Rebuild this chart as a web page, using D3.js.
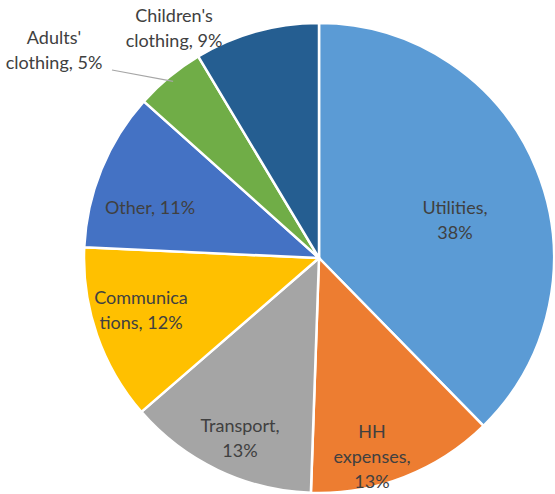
<!DOCTYPE html>
<html><head><meta charset="utf-8">
<script src="https://cdn.jsdelivr.net/npm/d3@7"></script>
<style>html,body{margin:0;padding:0;background:#fff;}</style>
</head><body>
<svg id="c" width="555" height="494"></svg>
<script>
const categories = ["Utilities", "HH expenses", "Transport", "Communications", "Other", "Adults' clothing", "Children's clothing"];
const values = [37.7, 12.9, 13.1, 12.1, 10.9, 4.8, 8.6];
const colors = ["#5B9BD5", "#ED7D31", "#A5A5A5", "#FFC000", "#4472C4", "#70AD47", "#255E91"];
const labelLines = [
  ["Utilities,", "38%"],
  ["HH", "expenses,", "13%"],
  ["Transport,", "13%"],
  ["Communica", "tions, 12%"],
  ["Other, 11%"],
  ["Adults'", "clothing, 5%"],
  ["Children's", "clothing, 9%"]
];
// label anchor positions (center of text block), in px
const labelPos = [[455, 220], [372, 457], [240, 438], [141, 310], [150, 208], [54, 50], [174, 28]];

const svg = d3.select("#c");
const cx = 319, cy = 258, r = 235;
const g = svg.append("g").attr("transform", `translate(${cx},${cy})`);
const pie = d3.pie().sort(null).value(d => d);
const arc = d3.arc().innerRadius(0).outerRadius(r);
const arcs = pie(values);
g.selectAll("path").data(arcs).enter().append("path")
  .attr("d", arc)
  .attr("fill", (d, i) => colors[i])
  .attr("stroke", "#fff").attr("stroke-width", 2.5).attr("stroke-linejoin", "round");

// leader line for Adults' clothing
const a5 = arcs[5];
const mid = (a5.startAngle + a5.endAngle) / 2;
const ex = cx + Math.sin(mid) * (r - 6), ey = cy - Math.cos(mid) * (r - 6);
svg.append("polyline")
  .attr("points", `${112},${70} ${ex},${ey}`)
  .attr("fill", "none").attr("stroke", "#A6A6A6").attr("stroke-width", 1.2);

const lh = 25;
labelLines.forEach((lines, i) => {
  const [x, y] = labelPos[i];
  const t = svg.append("text")
    .attr("text-anchor", "middle")
    .attr("font-family", "Lato, 'Open Sans', sans-serif")
    .attr("font-size", 18)
    .attr("fill", "#404040");
  lines.forEach((s, j) => {
    t.append("tspan").attr("x", x)
      .attr("y", y + (j - (lines.length - 1) / 2) * lh)
      .attr("dy", "0.35em").text(s);
  });
});
</script>
</body></html>
